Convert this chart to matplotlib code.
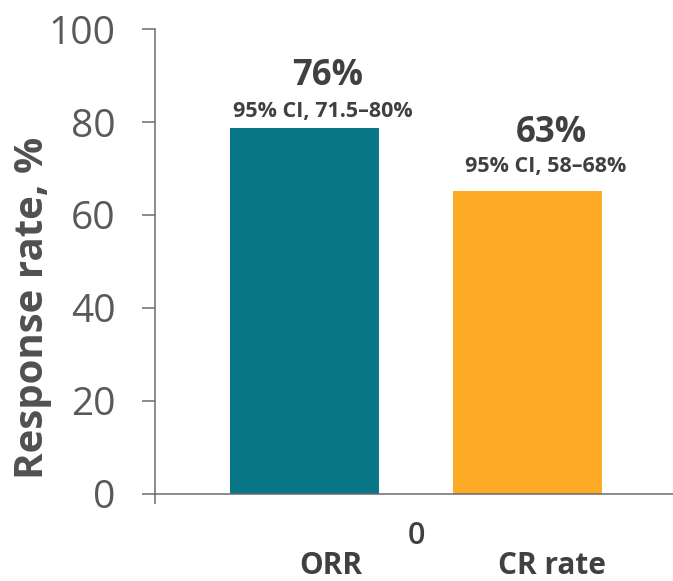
import matplotlib
matplotlib.use("Agg")
import matplotlib.pyplot as plt

# data
categories = ["0"]
series = ["ORR", "CR rate"]
values = [78.8, 65.2]
value_labels = ["76%", "63%"]
ci_labels = ["95% CI, 71.5\u201380%", "95% CI, 58\u201368%"]
colors = ["#0A7789", "#FDAA25"]
yticks = [0, 20, 40, 60, 80, 100]

plt.rcParams['font.family'] = ['Open Sans', 'DejaVu Sans']
TXT = "#404040"
TICK = "#595959"
AX = "#6b6b6b"

W, H = 673, 581
fig = plt.figure(figsize=(W / 100, H / 100), dpi=100)
left, right, bottom, top = 155, 677, 493.5, 29.3
ax = fig.add_axes([left / W, (H - bottom) / H, (right - left) / W, (bottom - top) / H])

width = 0.571
offsets = [-0.427, 0.427]
for i, s in enumerate(series):
    ax.bar(0 + offsets[i], values[i], width=width, color=colors[i], zorder=2)

ax.set_xlim(-1, 1)
ax.set_ylim(0, 100)
ax.set_yticks(yticks)
ax.set_yticklabels([str(t) for t in yticks], fontsize=28, color=TICK)
ax.set_xticks([0])
ax.set_xticklabels(categories, fontsize=22, color=TXT, fontweight='semibold')
ax.set_xticks([-1], minor=True)
ax.tick_params(axis='y', direction='out', length=9.4, width=1.1, color=AX, pad=19)
ax.tick_params(axis='x', which='major', length=0, pad=20)
ax.tick_params(axis='x', which='minor', direction='out', length=7, width=1.1, color=AX)

for sp in ['top', 'right']:
    ax.spines[sp].set_visible(False)
for sp in ['left', 'bottom']:
    ax.spines[sp].set_color(AX)
    ax.spines[sp].set_linewidth(1.1)

# value labels
lab_dx = [0.09, 0.09]
big_off = [88.0, 75.7]
ci_off = [81.1, 69.3]
for i in range(len(series)):
    x = offsets[i] + lab_dx[i]
    ax.text(x, big_off[i], value_labels[i], ha='center', va='baseline',
            fontsize=25, fontweight='bold', color=TXT)
    ax.text(x - 0.02, ci_off[i], ci_labels[i], ha='center', va='baseline',
            fontsize=15.5, fontweight='bold', color=TXT)

# series names below axis
name_x = [331, 552]
for i, s in enumerate(series):
    fig.text(name_x[i] / W, (H - 574) / H, s, ha='center', va='baseline',
             fontsize=21.5, fontweight='bold', color=TXT)

fig.text(13 / W, (H - 308) / H, "Response rate, %", rotation=90, ha='left', va='center',
         fontsize=29, fontweight='bold', color="#505050")

fig.savefig("out.png", dpi=100)
